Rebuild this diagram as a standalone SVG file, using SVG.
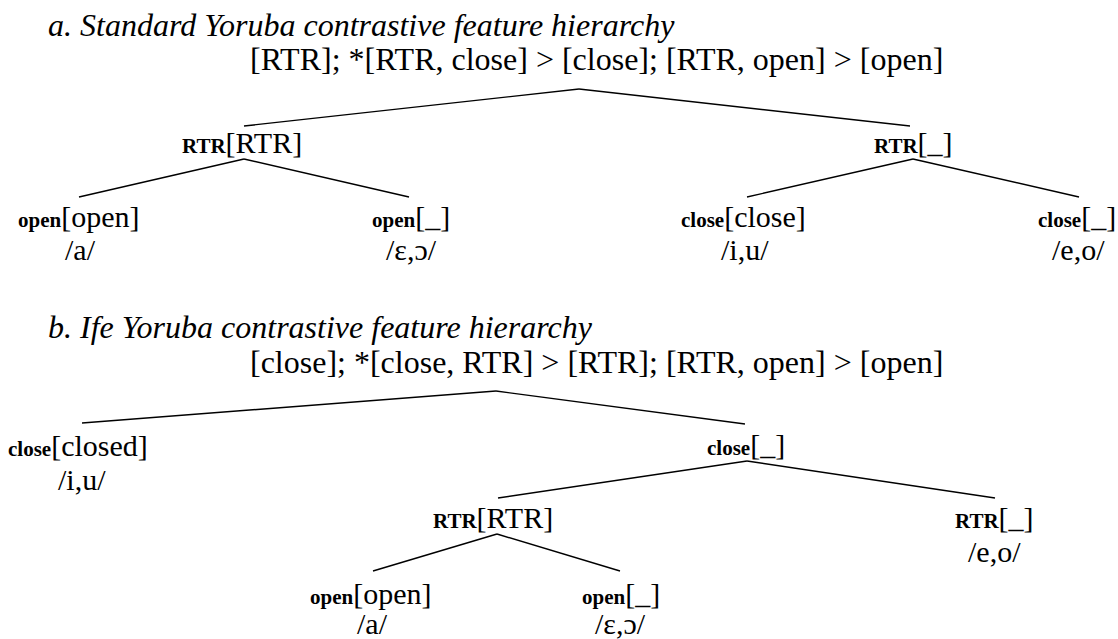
<svg xmlns="http://www.w3.org/2000/svg" width="1118" height="639" viewBox="0 0 1118 639">
<style>
text{font-family:"Liberation Serif","Times New Roman",serif;fill:#000}
.it{font-style:italic;font-size:32px}
.hd{font-size:32px}
.big{font-size:30px}
.sm{font-size:21px;font-weight:bold}
.ph{font-size:30px}
#connectors line{stroke:#000;stroke-width:1.4}
</style>
<rect width="1118" height="639" fill="#fff"/>
<g id="connectors">
<line x1="579" y1="89" x2="244" y2="126"/>
<line x1="579" y1="89" x2="910" y2="126"/>
<line x1="244" y1="159" x2="79" y2="197"/>
<line x1="244" y1="159" x2="409" y2="197"/>
<line x1="913" y1="159" x2="747" y2="197"/>
<line x1="913" y1="159" x2="1079" y2="197"/>
<line x1="496" y1="391" x2="82" y2="423"/>
<line x1="496" y1="391" x2="745" y2="424"/>
<line x1="747" y1="461" x2="498" y2="498"/>
<line x1="747" y1="461" x2="995" y2="498"/>
<line x1="497" y1="534" x2="373" y2="571"/>
<line x1="497" y1="534" x2="620" y2="571"/>
</g>
<g id="title-a"><text class="it" x="48" y="36">a. Standard Yoruba contrastive feature hierarchy</text></g>
<g id="a-root"><text class="hd" x="250" y="70">[RTR]; *[RTR, close] &gt; [close]; [RTR, open] &gt; [open]</text></g>
<g id="a-rtr"><text x="182" y="153"><tspan class="sm">RTR</tspan><tspan class="big">[RTR]</tspan></text></g>
<g id="a-nortr"><text x="874" y="153"><tspan class="sm">RTR</tspan><tspan class="big">[_]</tspan></text></g>
<g id="a-open"><text x="18" y="227"><tspan class="sm">open</tspan><tspan class="big">[open]</tspan></text><text class="ph" x="65" y="260">/a/</text></g>
<g id="a-noopen"><text x="372" y="227"><tspan class="sm">open</tspan><tspan class="big">[_]</tspan></text><text class="ph" x="386" y="260">/ɛ,ɔ/</text></g>
<g id="a-close"><text x="681" y="227"><tspan class="sm">close</tspan><tspan class="big">[close]</tspan></text><text class="ph" x="721" y="260">/i,u/</text></g>
<g id="a-noclose"><text x="1038" y="227"><tspan class="sm">close</tspan><tspan class="big">[_]</tspan></text><text class="ph" x="1052" y="260">/e,o/</text></g>
<g id="title-b"><text class="it" x="48" y="338">b. Ife Yoruba contrastive feature hierarchy</text></g>
<g id="b-root"><text class="hd" x="250" y="373">[close]; *[close, RTR] &gt; [RTR]; [RTR, open] &gt; [open]</text></g>
<g id="b-close"><text x="8" y="456"><tspan class="sm">close</tspan><tspan class="big">[closed]</tspan></text><text class="ph" x="58" y="490">/i,u/</text></g>
<g id="b-noclose"><text x="707" y="455"><tspan class="sm">close</tspan><tspan class="big">[_]</tspan></text></g>
<g id="b-rtr"><text x="433" y="528"><tspan class="sm">RTR</tspan><tspan class="big">[RTR]</tspan></text></g>
<g id="b-nortr"><text x="955" y="528"><tspan class="sm">RTR</tspan><tspan class="big">[_]</tspan></text><text class="ph" x="968" y="562">/e,o/</text></g>
<g id="b-open"><text x="310" y="604"><tspan class="sm">open</tspan><tspan class="big">[open]</tspan></text><text class="ph" x="357" y="634">/a/</text></g>
<g id="b-noopen"><text x="582" y="604"><tspan class="sm">open</tspan><tspan class="big">[_]</tspan></text><text class="ph" x="595" y="634">/ɛ,ɔ/</text></g>
</svg>
